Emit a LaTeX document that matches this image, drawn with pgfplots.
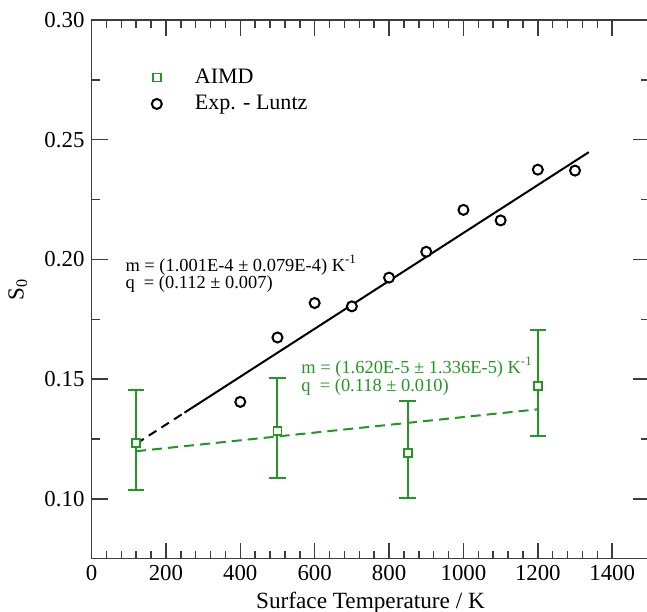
\documentclass[border=0pt]{standalone}
\usepackage{fontspec}
\setmainfont{Liberation Serif}
\usepackage{pgfplots}
\pgfplotsset{compat=1.18}
\definecolor{aimd}{RGB}{35,150,35}
\definecolor{axgray}{RGB}{60,60,60}
\begin{document}
\begin{tikzpicture}
\begin{axis}[
  scale only axis, width=278.6pt, height=269pt,
  xmin=0, xmax=1500, ymin=0.075, ymax=0.30,
  xtick={0,200,...,1400}, minor x tick num=4,
  ytick={0.10,0.15,0.20,0.25,0.30}, minor y tick num=1,
  tick align=inside, major tick length=8pt, minor tick length=4pt,
  axis line style={axgray, line width=0.75pt},
  every tick/.style={axgray, line width=0.75pt},
  /pgf/number format/assume math mode=true,
  xticklabel style={font=\fontsize{11.4}{13}\selectfont, /pgf/number format/1000 sep={}},
  yticklabel style={font=\fontsize{11.4}{13}\selectfont, /pgf/number format/.cd, fixed, fixed zerofill, precision=2},
  xlabel={Surface Temperature / K},
  ylabel={S\textsubscript{0}},
  xlabel style={font=\fontsize{11.6}{13}\selectfont, at={(axis description cs:0.5,-0.093)}, anchor=base},
  ylabel style={font=\fontsize{11.5}{13}\selectfont, at={(axis description cs:-0.132,0.5)}, anchor=center},
  legend style={draw=none, fill=none, at={(axis cs:142,0.2705)}, anchor=west,
    font=\fontsize{11}{12}\selectfont, row sep=0.5pt},
  legend cell align=left,
  legend image code/.code={\path (0,0) (0.69cm,0); \draw[#1] plot coordinates {(0.1cm,0cm)};},
]
\coordinate (SW) at (rel axis cs:0,0);
\coordinate (NE) at (rel axis cs:1,1);
% error bars of AIMD
\addplot[draw=none, mark=none, forget plot,
  error bars/.cd, y dir=both, y explicit,
  error bar style={draw=aimd, solid, line width=1pt},
  error mark options={rotate=90, mark size=4.1pt, draw=aimd, line width=1pt}]
  table[x=x, y=y, y error plus=ep, y error minus=em]{
x y ep em
120 0.1232 0.0222 0.0193
500 0.1282 0.0222 0.0196
850 0.1192 0.0218 0.0189
1200 0.1472 0.0235 0.0211
};
% fit lines
\addplot[black, line width=1pt, dash pattern=on 4.5pt off 3pt, forget plot] coordinates {(120,0.1230) (250,0.1360)};
\addplot[black, line width=1pt, forget plot] coordinates {(250,0.1360) (1337,0.2448)};
\addplot[aimd, line width=1pt, dash pattern=on 5pt off 3pt, forget plot] coordinates {(120,0.1199) (1200,0.1374)};
% markers
\addplot[aimd, only marks, mark=square*, mark size=2pt, mark options={fill=white, draw=aimd, line width=0.9pt}]
  coordinates {(120,0.1232) (500,0.1282) (850,0.1192) (1200,0.1472)};
\addplot[black, only marks, mark=*, mark size=2.5pt, mark options={fill=white, draw=black, line width=1pt}]
  coordinates {(400,0.1405) (500,0.1674) (600,0.1818) (700,0.1804) (800,0.1924)
               (900,0.2032) (1000,0.2207) (1100,0.2163) (1200,0.2375) (1300,0.2371)};
\legend{AIMD, Exp. - Luntz}
% annotations
\node[anchor=west, align=left, font=\fontsize{9.2}{8.8}\selectfont, inner sep=0pt] at (axis cs:90.4,0.194)
  {m = (1.001E-4 ± 0.079E-4) K\textsuperscript{-1}\\q\ \ = (0.112 ± 0.007)};
\node[anchor=west, align=left, text=aimd, font=\fontsize{9.2}{8.8}\selectfont, inner sep=0pt] at (axis cs:563.4,0.1512)
  {m = (1.620E-5 ± 1.336E-5) K\textsuperscript{-1}\\q\ \ = (0.118 ± 0.010)};
\end{axis}
\pgfresetboundingbox
\path ([shift={(-45.7pt,-26.5pt)}]SW) rectangle ([shift={(-1.2pt,10pt)}]NE);
\end{tikzpicture}
\end{document}
